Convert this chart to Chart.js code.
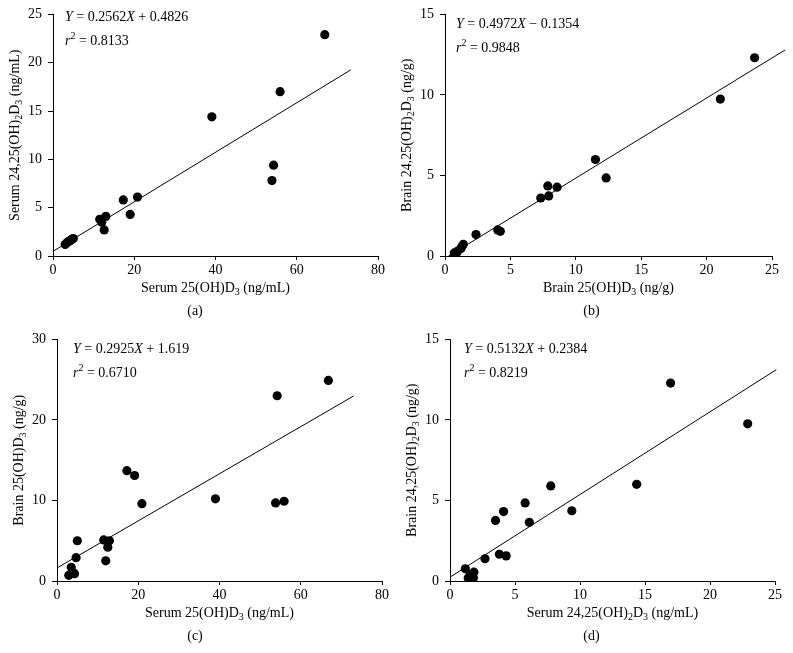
<!DOCTYPE html>
<html>
<head>
<meta charset="utf-8">
<script src="https://cdn.jsdelivr.net/npm/chart.js@4.4.1/dist/chart.umd.min.js"></script>
<style>
  html, body { margin: 0; padding: 0; background: #fff; }
  #wrap { position: relative; width: 793px; height: 653px; background: #fff; }
  canvas { position: absolute; }
</style>
</head>
<body>
<div id="wrap">
  <canvas id="ca" width="396" height="325" style="left:0;top:0"></canvas>
  <canvas id="cb" width="397" height="325" style="left:396px;top:0"></canvas>
  <canvas id="cc" width="396" height="328" style="left:0;top:325px"></canvas>
  <canvas id="cd" width="397" height="328" style="left:396px;top:325px"></canvas>
</div>
<script>
// ---------------- DATA ----------------
// (a) Serum 25(OH)D3 vs Serum 24,25(OH)2D3
const aX = [66.9, 55.9, 54.3, 53.9, 39.1, 20.8, 19.0, 17.3, 13.0, 12.6, 12.0, 11.5, 3.0, 3.5, 4.0, 4.3, 4.7, 5.0];
const aY = [22.9, 17.0, 9.4, 7.8, 14.4, 6.1, 4.3, 5.8, 4.1, 2.7, 3.5, 3.8, 1.2, 1.4, 1.55, 1.6, 1.75, 1.8];
// (b) Brain 25(OH)D3 vs Brain 24,25(OH)2D3
const bX = [23.67, 21.05, 11.5, 12.32, 7.86, 8.57, 7.93, 7.32, 4.03, 4.23, 2.37, 1.4, 1.3, 1.22, 0.97, 0.71, 0.84, 0.75];
const bY = [12.31, 9.74, 5.99, 4.85, 4.35, 4.27, 3.73, 3.6, 1.62, 1.53, 1.33, 0.73, 0.6, 0.46, 0.31, 0.19, 0.1, 0.05];
// (c) Serum 25(OH)D3 vs Brain 25(OH)D3
const cX = [66.8, 54.2, 55.9, 53.8, 39.0, 20.9, 19.1, 17.2, 12.9, 12.5, 12.0, 11.5, 5.0, 4.7, 3.5, 4.1, 2.9, 4.3];
const cY = [24.9, 23.0, 9.9, 9.7, 10.2, 9.6, 13.1, 13.7, 5.0, 4.2, 2.5, 5.1, 5.0, 2.9, 1.7, 1.0, 0.7, 0.9];
// (d) Serum 24,25(OH)2D3 vs Brain 24,25(OH)2D3
const dX = [16.97, 22.9, 14.36, 7.75, 5.78, 4.12, 9.37, 3.5, 6.1, 3.8, 4.32, 2.69, 1.18, 1.84, 1.4, 1.66, 1.8, 1.55];
const dY = [12.29, 9.76, 6.0, 5.9, 4.85, 4.31, 4.36, 3.76, 3.64, 1.66, 1.56, 1.38, 0.76, 0.55, 0.18, 0.3, 0.18, 0.4];

// regression fits printed on the panels
const fitSlope = [0.2562, 0.4972, 0.2925, 0.5132];
const fitIntercept = [0.4826, -0.1354, 1.619, 0.2384];
const fitXStart = [0, 0.27, 0, 0];
const fitXEnd = [73.3, 26, 73, 25.1];

// axis ranges / ticks
const xMax = [80, 25, 80, 25];
const xStep = [20, 5, 20, 5];
const yMax = [25, 15, 30, 15];
const yStep = [5, 5, 10, 5];

// texts ('_' = subscript char, '^' = superscript char, '|' toggles italic)
const xTitles = ['Serum 25(OH)D_3 (ng/mL)', 'Brain 25(OH)D_3 (ng/g)', 'Serum 25(OH)D_3 (ng/mL)', 'Serum 24,25(OH)_2D_3 (ng/mL)'];
const yTitles = ['Serum 24,25(OH)_2D_3 (ng/mL)', 'Brain 24,25(OH)_2D_3 (ng/g)', 'Brain 25(OH)D_3 (ng/g)', 'Brain 24,25(OH)_2D_3 (ng/g)'];
const eqTexts = ['|Y| = 0.2562|X| + 0.4826', '|Y| = 0.4972|X| \u2212 0.1354', '|Y| = 0.2925|X| + 1.619', '|Y| = 0.5132|X| + 0.2384'];
const r2Texts = ['|r|^2 = 0.8133', '|r|^2 = 0.9848', '|r|^2 = 0.6710', '|r|^2 = 0.8219'];
const captions = ['(a)', '(b)', '(c)', '(d)'];

// ---------------- LAYOUT ----------------
const FONT = '"Liberation Serif", "Times New Roman", serif';
const layout = [
  { id: 'ca', yW: 53, xH: 69, padT: 14, padR: 18, eqDx: 12, eqDy: 3 },
  { id: 'cb', yW: 49, xH: 69, padT: 14, padR: 21, eqDx: 11, eqDy: 10 },
  { id: 'cc', yW: 57, xH: 72, padT: 12, padR: 14, eqDx: 16, eqDy: 10 },
  { id: 'cd', yW: 54, xH: 72, padT: 12, padR: 18, eqDx: 14, eqDy: 10 }
];

function parseRich(str) {
  const runs = [];
  let italic = false;
  let buf = '';
  const flush = () => { if (buf) { runs.push({ t: buf, i: italic, p: 0 }); buf = ''; } };
  for (let k = 0; k < str.length; k++) {
    const ch = str[k];
    if (ch === '|') { flush(); italic = !italic; }
    else if (ch === '_' || ch === '^') { flush(); runs.push({ t: str[k + 1], i: false, p: ch === '_' ? 1 : -1 }); k++; }
    else buf += ch;
  }
  flush();
  return runs;
}

function drawRich(ctx, str, x, y, size, align) {
  const runs = parseRich(str);
  const fontOf = r => (r.i ? 'italic ' : '') + (r.p ? Math.round(size * 0.7) : size) + 'px ' + FONT;
  let total = 0;
  runs.forEach(r => { ctx.font = fontOf(r); r.w = ctx.measureText(r.t).width; total += r.w; });
  let cx = align === 'center' ? x - total / 2 : x;
  ctx.textBaseline = 'middle';
  ctx.textAlign = 'left';
  ctx.fillStyle = '#000';
  runs.forEach(r => {
    ctx.font = fontOf(r);
    const dy = r.p === 1 ? size * 0.32 : (r.p === -1 ? -size * 0.38 : 0);
    ctx.fillText(r.t, cx, y + dy);
    cx += r.w;
  });
}

const textPlugin = {
  id: 'panelText',
  afterDraw(chart) {
    const k = chart.options.plugins.panelText.index;
    const L = layout[k];
    const ctx = chart.ctx;
    const ca = chart.chartArea;
    ctx.save();
    // equation + r^2
    drawRich(ctx, eqTexts[k], ca.left + L.eqDx, ca.top + L.eqDy, 14, 'left');
    drawRich(ctx, r2Texts[k], ca.left + L.eqDx, ca.top + L.eqDy + 24, 14, 'left');
    // x title
    drawRich(ctx, xTitles[k], (ca.left + ca.right) / 2, ca.bottom + 32, 14, 'center');
    // caption
    ctx.font = '14px ' + FONT;
    ctx.textAlign = 'center';
    ctx.textBaseline = 'middle';
    ctx.fillText(captions[k], chart.width / 2 - 3, ca.bottom + 55);
    // y title (rotated)
    ctx.translate(ca.left - 38, (ca.top + ca.bottom) / 2);
    ctx.rotate(-Math.PI / 2);
    drawRich(ctx, yTitles[k], 0, 0, 14, 'center');
    ctx.restore();
  }
};

const xs = [aX, bX, cX, dX];
const ys = [aY, bY, cY, dY];

layout.forEach((L, k) => {
  const pts = xs[k].map((v, i) => ({ x: v, y: ys[k][i] }));
  const fit = [fitXStart[k], fitXEnd[k]].map(x => ({ x: x, y: fitSlope[k] * x + fitIntercept[k] }));
  const tickFont = { family: FONT, size: 14 };
  new Chart(document.getElementById(L.id), {
    type: 'scatter',
    data: {
      datasets: [
        { type: 'scatter', data: pts, backgroundColor: '#000', borderColor: '#000', pointRadius: 4.6, pointBorderWidth: 0, order: 1 },
        { type: 'line', data: fit, borderColor: '#000', borderWidth: 1, pointRadius: 0, fill: false, clip: false, tension: 0, order: 2 }
      ]
    },
    options: {
      responsive: false,
      animation: false,
      events: [],
      layout: { padding: { top: L.padT, right: L.padR, left: 0, bottom: 0 } },
      plugins: { legend: { display: false }, tooltip: { enabled: false }, panelText: { index: k } },
      scales: {
        x: {
          type: 'linear', min: 0, max: xMax[k],
          ticks: { stepSize: xStep[k], color: '#000', font: tickFont, padding: 2, maxRotation: 0 },
          grid: { display: true, drawOnChartArea: false, drawTicks: true, tickLength: 4, color: '#000' },
          border: { display: true, color: '#000', width: 1 },
          afterFit: s => { s.height = L.xH; }
        },
        y: {
          type: 'linear', min: 0, max: yMax[k],
          ticks: { stepSize: yStep[k], color: '#000', font: tickFont, padding: 6 },
          grid: { display: true, drawOnChartArea: false, drawTicks: true, tickLength: 5, color: '#000' },
          border: { display: true, color: '#000', width: 1 },
          afterFit: s => { s.width = L.yW; }
        }
      }
    },
    plugins: [textPlugin]
  });
});
</script>
</body>
</html>
